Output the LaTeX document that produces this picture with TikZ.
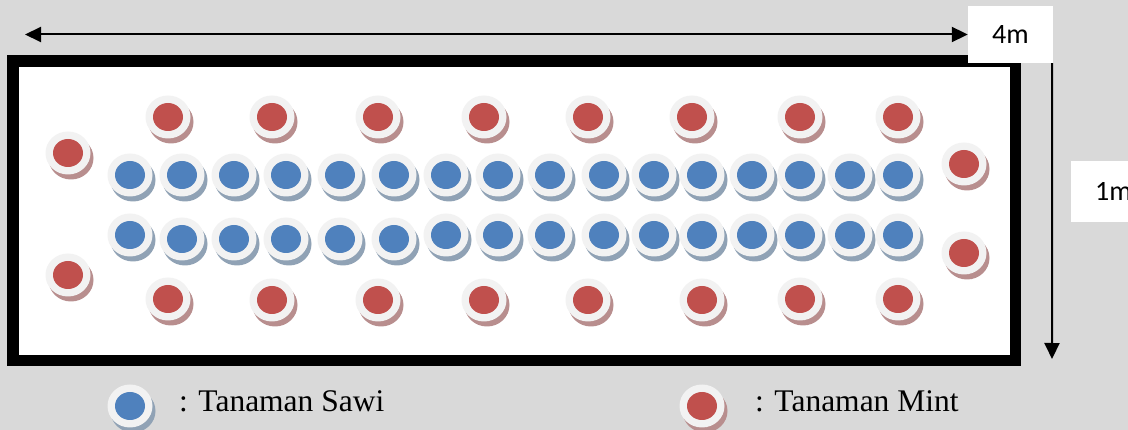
\documentclass[tikz,border=0pt]{standalone}
\usepackage{fontspec}
\setmainfont{Liberation Serif}
\newfontfamily\labelfont{Carlito}
\usetikzlibrary{arrows.meta}
\definecolor{bggray}{HTML}{D9D9D9}
\definecolor{ringgray}{HTML}{F2F2F2}
\definecolor{sawiblue}{HTML}{4F81BD}
\definecolor{mintred}{HTML}{C0504D}
\definecolor{sawishadow}{HTML}{90A2B5}
\definecolor{mintshadow}{HTML}{B88E8E}
\tikzset{
  sawi/.pic={
    \fill[sawishadow] (3,5) ellipse [x radius=22.5, y radius=21.5];
    \fill[ringgray] (0,0) ellipse [x radius=22.5, y radius=21.5];
    \fill[sawiblue] (0,0) ellipse [x radius=15, y radius=14];
  },
  mint/.pic={
    \fill[mintshadow] (3,5) ellipse [x radius=22.5, y radius=21.5];
    \fill[ringgray] (0,0) ellipse [x radius=22.5, y radius=21.5];
    \fill[mintred] (0,0) ellipse [x radius=15, y radius=14];
  },
  dimbox/.style={fill=white, draw=none, inner sep=0pt, font=\labelfont\fontsize{28}{32}\selectfont},
  dimarrow/.style={line width=2pt, draw=black},
  legendtext/.style={anchor=base west, inner sep=0pt, font=\fontsize{31.5}{36}\selectfont}
}
\begin{document}
\begin{tikzpicture}[x=1pt, y=-1pt]
\fill[bggray] (0,0) rectangle (1128,430);
\useasboundingbox (0,0) rectangle (1128,430);

% bed frame
\node[draw=black, line width=11.5pt, fill=white, minimum width=1002.5pt, minimum height=299.5pt, inner sep=0pt] (bed) at (514.25,210.75) {};

% dimension boxes
\node[dimbox, minimum width=85pt, minimum height=57pt] (w4) at (1010.5,34.5) {4m};
\node[dimbox, minimum width=85pt, minimum height=61pt] (h1) at (1113.5,191.5) {1m};

% dimension arrows
\coordinate (L) at (25,34.5);
\coordinate (D) at (1052,359);
\draw[dimarrow, {Triangle[length=16pt,width=15pt]}-{Triangle[length=16pt,width=15pt]}] (L) -- (w4.west);
\draw[dimarrow, -{Triangle[length=16pt,width=15pt]}] ([xshift=-1pt]w4.south east) -- (D);

% mint plants: sides
\pic at (68,153) {mint};
\pic at (68,275) {mint};
\pic at (964,164) {mint};
\pic at (964,253) {mint};
% mint plants: top row
\foreach \x in {168,272,378,484,588,692,800,898}
  \pic at (\x,117) {mint};
% mint plants: bottom row
\foreach \x/\y in {168/299,272/300,378/300,484/300,588/300,702/300,800/299,898/299}
  \pic at (\x,\y) {mint};

% sawi plants: row 1
\foreach \x in {130,182,234,286,340,394,446,498,550,604,654,702,752,800,850,898}
  \pic at (\x,175) {sawi};
% sawi plants: row 2
\foreach \x/\y in {130/235,182/239,234/239,286/239,340/239,394/239,446/235,498/235,550/235,604/235,654/235,702/235,752/235,800/235,850/235,898/235}
  \pic at (\x,\y) {sawi};

% legend
\pic at (130,406) {sawi};
\node[legendtext] (lsawi) at (179,411.7) {: Tanaman Sawi};
\pic at (702,406) {mint};
\node[legendtext] (lmint) at (755,411.7) {: Tanaman Mint};
\end{tikzpicture}
\end{document}
